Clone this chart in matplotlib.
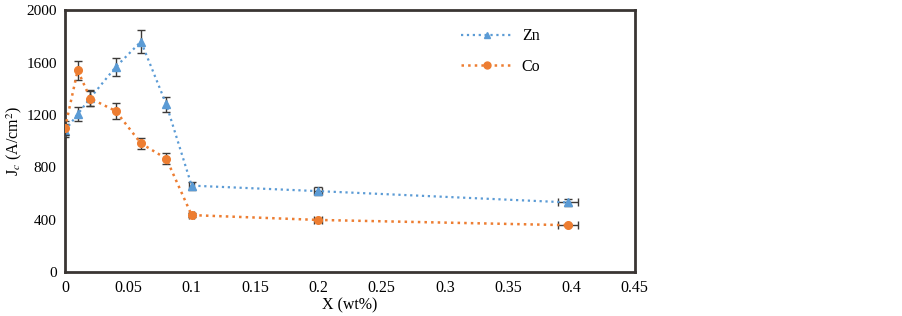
import matplotlib.pyplot as plt
from matplotlib.lines import Line2D

# ===== DATA =====
x_zn = [0, 0.01, 0.02, 0.04, 0.06, 0.08, 0.1, 0.2, 0.397]
jc_zn = [1080, 1205, 1330, 1565, 1760, 1280, 660, 618, 532]
err_zn = [50, 55, 60, 70, 90, 60, 30, 30, 25]
xerr_zn = [0, 0, 0, 0, 0, 0, 0.002, 0.003, 0.008]

x_co = [0, 0.01, 0.02, 0.04, 0.06, 0.08, 0.1, 0.2, 0.397]
jc_co = [1100, 1540, 1325, 1230, 982, 866, 435, 398, 358]
err_co = [50, 75, 60, 60, 45, 40, 15, 10, 10]
xerr_co = [0, 0, 0, 0, 0, 0, 0.002, 0.003, 0.008]

x_ticks = [0, 0.05, 0.1, 0.15, 0.2, 0.25, 0.3, 0.35, 0.4, 0.45]
x_tick_labels = ["0", "0.05", "0.1", "0.15", "0.2", "0.25", "0.3", "0.35", "0.4", "0.45"]
y_ticks = [0, 400, 800, 1200, 1600, 2000]

plt.rcParams['font.family'] = ['Liberation Serif', 'DejaVu Serif']
plt.rcParams['mathtext.fontset'] = 'stix'

fig = plt.figure(figsize=(9.03, 3.16), dpi=100)
ax = fig.add_axes([0.072, 0.139, 0.631, 0.829])

blue = "#5B9BD5"
orange = "#ED7D31"
ecol = "#3d3a38"

# ===== SERIES =====
ax.errorbar(x_zn, jc_zn, yerr=err_zn, xerr=xerr_zn, color=blue, ls=":", lw=1.6,
            marker="^", ms=5.5, ecolor=ecol, elinewidth=1, capsize=3, zorder=3)
ax.errorbar(x_co, jc_co, yerr=err_co, xerr=xerr_co, color=orange, ls=":", lw=1.8,
            marker="o", ms=5.5, ecolor=ecol, elinewidth=1, capsize=3, zorder=4)

ax.set_xlim(0, 0.45)
ax.set_ylim(0, 2000)
ax.set_xticks(x_ticks)
ax.set_xticklabels(x_tick_labels)
ax.set_yticks(y_ticks)
ax.tick_params(length=0, labelsize=11.5, pad=6)
ax.tick_params(axis='y', labelsize=11, pad=6)

for s in ax.spines.values():
    s.set_linewidth(2)
    s.set_color("#3a3533")

ax.set_xlabel("X (wt%)", fontsize=11.5, labelpad=1)
ax.set_ylabel("J$_c$ (A/cm$^2$)", fontsize=11.5)
ax.yaxis.set_label_coords(-0.072, 0.5)

# ===== LEGEND =====
h = [Line2D([], [], color=blue, ls=":", lw=1.6, marker="^", ms=5),
     Line2D([], [], color=orange, ls=":", lw=1.8, marker="o", ms=5)]
ax.legend(h, ["Zn", "Co"], loc="upper left", bbox_to_anchor=(0.67, 0.985),
          frameon=False, fontsize=11.5, handlelength=3.2, handletextpad=0.6,
          labelspacing=0.9)

plt.savefig("out.png", dpi=100)
